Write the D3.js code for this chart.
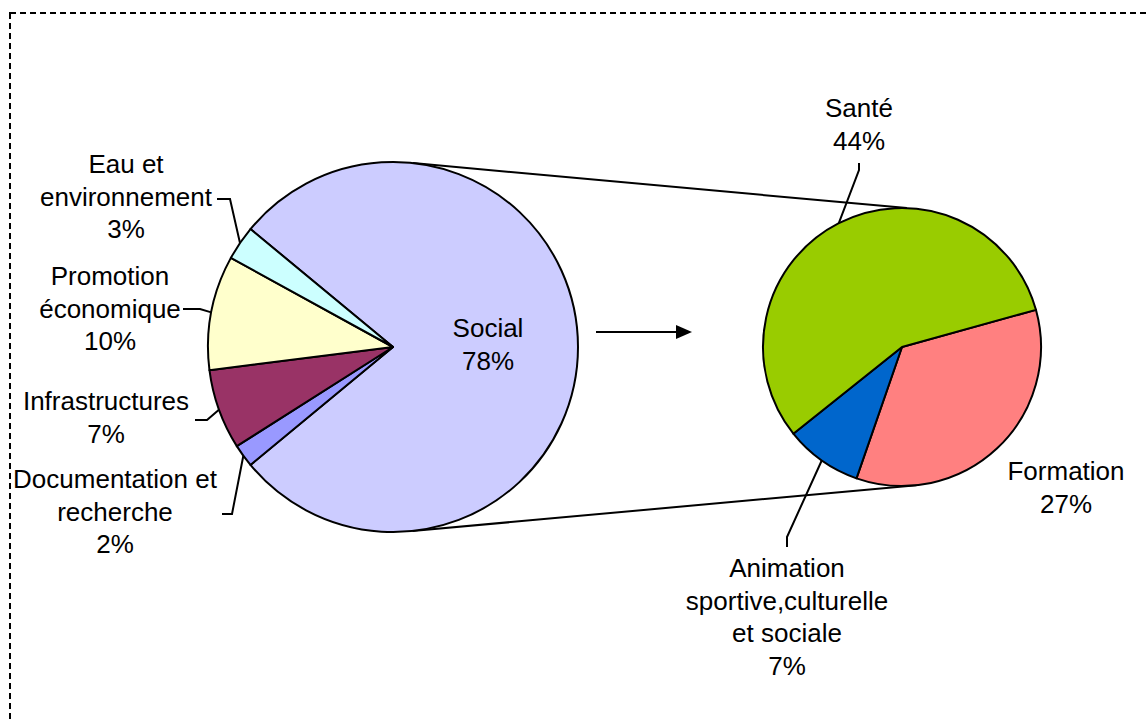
<!DOCTYPE html>
<html>
<head>
<meta charset="utf-8">
<script src="https://cdn.jsdelivr.net/npm/d3@7"></script>
<style>
  html, body { margin: 0; padding: 0; background: #fff; }
  svg { display: block; }
  text { font-family: "Liberation Sans", Arial, sans-serif; font-size: 26px; fill: #000; }
</style>
</head>
<body>
<svg id="chart" width="1148" height="720"></svg>
<script>
// Main pie: sectors of activity (share of total, %)
const mainCategories = ["Social", "Documentation et recherche", "Infrastructures", "Promotion économique", "Eau et environnement"];
const mainShares = [78, 2, 7, 10, 3];
const mainLabelLines = [["Social"], ["Documentation et", "recherche"], ["Infrastructures"], ["Promotion", "économique"], ["Eau et", "environnement"]];
const mainColors = ["#CCCCFF", "#9999FF", "#993366", "#FFFFCC", "#CCFFFF"];

// Secondary pie: breakdown of the "Social" sector (share of total, %)
const subCategories = ["Formation", "Animation sportive,culturelle et sociale", "Santé"];
const subShares = [27, 7, 44];
const subLabelLines = [["Formation"], ["Animation", "sportive,culturelle", "et sociale"], ["Santé"]];
const subColors = ["#FF8080", "#0066CC", "#99CC00"];

// Layout
const W = 1148, H = 720;
const main = { cx: 393, cy: 347, r: 185 };
const sub = { cx: 902, cy: 347, r: 139 };
const lineH = 32.6;
const deg = Math.PI / 180;

// Label placement: centre x, first baseline y, optional leader elbow
const mainLabelPos = [
  { x: 488, y: 337 },
  { x: 115, y: 488, leader: [[222, 514], [232, 514]] },
  { x: 106, y: 410, leader: [[195, 420], [207, 420]] },
  { x: 110, y: 285, leader: [[183, 309], [200, 309]] },
  { x: 126, y: 173, leader: [[217, 199], [230, 199]] }
];
const subLabelPos = [
  { x: 1066, y: 480 },
  { x: 787, y: 577, leader: [[787, 547], [787, 537]] },
  { x: 859, y: 117, leader: [[859, 163], [859, 170]] }
];

const svg = d3.select("#chart");

// Dashed frame
svg.append("rect")
  .attr("x", 10).attr("y", 13)
  .attr("width", W + 40).attr("height", H + 40)
  .attr("fill", "none").attr("stroke", "#000")
  .attr("stroke-width", 2).attr("stroke-dasharray", "6,4");

// The "Social" slice is centred on the right-hand side
const mainTotal = d3.sum(mainShares);
const mainStart = Math.PI / 2 - (mainShares[0] / mainTotal) * Math.PI;
const mainPie = d3.pie().sort(null).value(d => d)
  .startAngle(mainStart).endAngle(mainStart + 2 * Math.PI);
const subStart = 74.5 * deg;
const subPie = d3.pie().sort(null).value(d => d)
  .startAngle(subStart).endAngle(subStart + 2 * Math.PI);

const polar = (p, a, rr) => [p.cx + rr * Math.sin(a), p.cy - rr * Math.cos(a)];

// Connector lines between the two pies
const connectors = [
  [polar(main, 6.2 * deg, main.r), polar(sub, 2 * deg, sub.r)],
  [polar(main, 174 * deg, main.r), polar(sub, 174 * deg, sub.r)]
];
svg.append("g").selectAll("line").data(connectors).join("line")
  .attr("x1", d => d[0][0]).attr("y1", d => d[0][1])
  .attr("x2", d => d[1][0]).attr("y2", d => d[1][1])
  .attr("stroke", "#000").attr("stroke-width", 2);

function drawPie(p, pie, values, colors, lines, pos) {
  const arcs = pie(values);
  const arc = d3.arc().innerRadius(0).outerRadius(p.r);
  const g = svg.append("g").attr("transform", `translate(${p.cx},${p.cy})`);
  g.selectAll("path").data(arcs).join("path")
    .attr("d", arc)
    .attr("fill", (d, i) => colors[i])
    .attr("stroke", "#000").attr("stroke-width", 2)
    .attr("stroke-linejoin", "round");

  // Leader lines
  arcs.forEach((d, i) => {
    const lp = pos[i];
    if (!lp.leader) return;
    const mid = (d.startAngle + d.endAngle) / 2;
    const pts = lp.leader.concat([polar(p, mid, p.r)]);
    svg.append("path")
      .attr("d", d3.line()(pts))
      .attr("fill", "none").attr("stroke", "#000").attr("stroke-width", 2);
  });

  // Labels
  arcs.forEach((d, i) => {
    const lp = pos[i];
    const rows = lines[i].concat([`${values[i]}%`]);
    const t = svg.append("text").attr("text-anchor", "middle");
    rows.forEach((s, k) => {
      t.append("tspan").attr("x", lp.x).attr("y", lp.y + k * lineH).text(s);
    });
  });
}

drawPie(main, mainPie, mainShares, mainColors, mainLabelLines, mainLabelPos);
drawPie(sub, subPie, subShares, subColors, subLabelLines, subLabelPos);

// Arrow pointing from the main pie to its breakdown
const arrowX0 = main.cx + main.r + 18, arrowX1 = sub.cx - sub.r - 71, arrowY = 332;
svg.append("line")
  .attr("x1", arrowX0).attr("y1", arrowY)
  .attr("x2", arrowX1 - 12).attr("y2", arrowY)
  .attr("stroke", "#000").attr("stroke-width", 2);
svg.append("path")
  .attr("d", d3.line()([[arrowX1 - 16, arrowY - 7], [arrowX1, arrowY], [arrowX1 - 16, arrowY + 7]]) + "Z")
  .attr("fill", "#000");
</script>
</body>
</html>
